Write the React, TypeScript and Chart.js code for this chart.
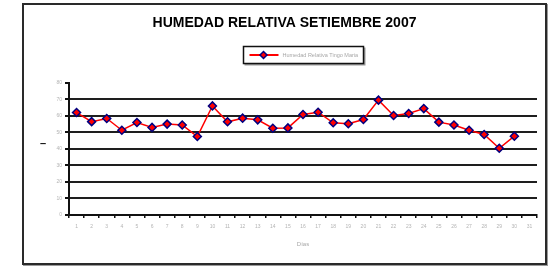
import React, { useEffect, useRef } from "react";
import { Chart, registerables } from "chart.js";

Chart.register(...registerables);

const chartTitle = "HUMEDAD RELATIVA SETIEMBRE 2007";
const seriesName = "Humedad Relativa Tingo Maria";
const xAxisTitle = "Días";
const yAxisTitle = "–";
const days = ["1","2","3","4","5","6","7","8","9","10","11","12","13","14","15","16","17","18","19","20","21","22","23","24","25","26","27","28","29","30","31"];
const humidity = [62, 56.5, 58.4, 51.3, 56, 53, 55, 54.5, 47.5, 66, 56.4, 58.6, 57.6, 52.5, 52.7, 60.8, 62.2, 55.8, 55.2, 57.8, 69.5, 60.2, 61.4, 64.4, 56.2, 54.5, 51.3, 48.7, 40.4, 47.7, null];
const yMin = 0;
const yMax = 80;
const yStep = 10;

const FONT = "'Liberation Sans', Arial, sans-serif";
const LINE_RED = "#ff0000";
const MARKER_NAVY = "#000080";
const GRID = "#1e1e1e";
const TICK_GRAY = "#b4b4b4";

const excelLegend = {
  id: "excelLegend",
  afterDraw(chart: any) {
    const ctx = chart.ctx;
    const left = Math.round(chart.width / 2 - 42) + 0.5;
    const top = 41.5;
    const w = 120;
    const h = 17;
    ctx.save();
    ctx.fillStyle = "#9a9a9a";
    ctx.fillRect(left + 1, top + 1, w + 1, h + 1);
    ctx.fillStyle = "#ffffff";
    ctx.fillRect(left, top, w, h);
    ctx.strokeStyle = "#111";
    ctx.lineWidth = 1.5;
    ctx.strokeRect(left, top, w, h);
    const cy = top + h / 2;
    ctx.strokeStyle = LINE_RED;
    ctx.lineWidth = 2;
    ctx.beginPath();
    ctx.moveTo(left + 6, cy);
    ctx.lineTo(left + 35, cy);
    ctx.stroke();
    const mx = left + 20;
    const r = 3.5;
    ctx.beginPath();
    ctx.moveTo(mx, cy - r);
    ctx.lineTo(mx + r, cy);
    ctx.lineTo(mx, cy + r);
    ctx.lineTo(mx - r, cy);
    ctx.closePath();
    ctx.fillStyle = LINE_RED;
    ctx.fill();
    ctx.strokeStyle = MARKER_NAVY;
    ctx.lineWidth = 1.5;
    ctx.stroke();
    ctx.fillStyle = "#a8a8a8";
    ctx.font = `5.5px ${FONT}`;
    ctx.textBaseline = "middle";
    ctx.textAlign = "left";
    ctx.fillText(seriesName, left + 39, cy);
    ctx.restore();
  },
};

const yTitlePlugin = {
  id: "yTitleMark",
  afterDraw(chart: any) {
    const ctx = chart.ctx;
    const a = chart.chartArea;
    ctx.save();
    ctx.fillStyle = "#111";
    ctx.font = `bold 11px ${FONT}`;
    ctx.textAlign = "center";
    ctx.textBaseline = "middle";
    ctx.fillText(yAxisTitle, a.left - 26, (a.top + a.bottom) / 2 - 5);
    ctx.restore();
  },
};

export default function App() {
  const ref = useRef<HTMLCanvasElement | null>(null);

  useEffect(() => {
    if (!ref.current) return;
    const chart = new Chart(ref.current, {
      type: "line",
      data: {
        labels: days,
        datasets: [
          {
            label: seriesName,
            data: humidity,
            borderColor: LINE_RED,
            borderWidth: 1.5,
            backgroundColor: LINE_RED,
            pointStyle: "rectRot",
            pointRadius: 4,
            pointBorderColor: MARKER_NAVY,
            pointBackgroundColor: LINE_RED,
            pointBorderWidth: 1.5,
            tension: 0,
            spanGaps: false,
          },
        ],
      },
      options: {
        responsive: false,
        animation: false,
        layout: { padding: { top: 0, left: 8, right: 8, bottom: 0 } },
        plugins: {
          legend: { display: false },
          tooltip: { enabled: false },
          title: {
            display: true,
            text: chartTitle,
            color: "#000",
            font: { family: FONT, size: 14, weight: "bold" },
            padding: { top: 10, bottom: 51 },
          },
        },
        scales: {
          x: {
            type: "category",
            offset: true,
            border: { display: true, color: "#111", width: 2 },
            grid: {
              offset: true,
              drawOnChartArea: false,
              drawTicks: true,
              tickLength: 3,
              color: "#111",
              lineWidth: 1.5,
            },
            ticks: {
              color: TICK_GRAY,
              font: { family: FONT, size: 5 },
              maxRotation: 0,
              autoSkip: false,
              padding: 6,
            },
            title: {
              display: true,
              text: xAxisTitle,
              color: "#a8a8a8",
              font: { family: FONT, size: 6 },
              padding: { top: 6, bottom: 15 },
            },
            afterFit: (scale: any) => {
              scale.height = 48;
            },
          },
          y: {
            min: yMin,
            max: yMax,
            border: { display: true, color: "#111", width: 2 },
            grid: {
              color: (c: any) => (c.tick && c.tick.value === yMax ? "rgba(0,0,0,0)" : GRID),
              tickColor: "#111",
              lineWidth: 2,
              drawTicks: true,
              tickLength: 4,
            },
            ticks: {
              stepSize: yStep,
              color: TICK_GRAY,
              font: { family: FONT, size: 5 },
              padding: 3,
            },
            afterFit: (scale: any) => {
              scale.width = 37;
            },
          },
        },
      },
      plugins: [excelLegend, yTitlePlugin],
    });
    return () => chart.destroy();
  }, []);

  return (
    <div
      style={{
        position: "absolute",
        left: 22,
        top: 3,
        width: 525,
        height: 262,
        border: "2px solid #2a2a2a",
        boxSizing: "border-box",
        boxShadow: "1px 1px 0 #9a9a9a",
        background: "#fff",
      }}
    >
      <canvas ref={ref} width={521} height={258} style={{ display: "block" }} />
    </div>
  );
}
